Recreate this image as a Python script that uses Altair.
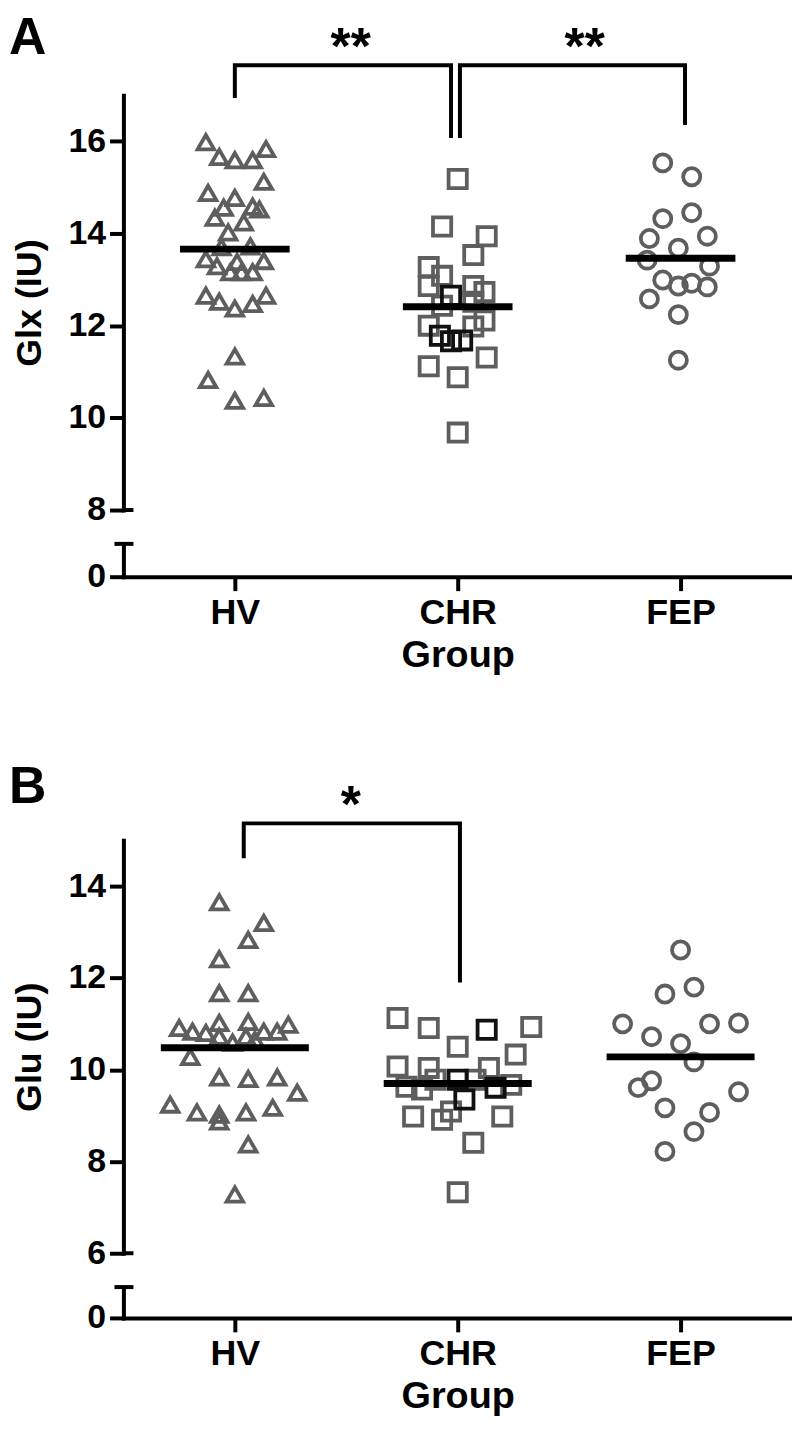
import altair as alt
import pandas as pd

FONT = "Liberation Sans, Arial"
GROUPS = ["HV", "CHR", "FEP"]
SHAPES = ["triangle-up", "square", "circle"]
GRAY = "#5e5e5e"

# ---------------- Panel A : Glx (IU) ----------------
A_HV_Y = [15.98, 15.66, 15.59, 15.59, 15.83, 15.12, 14.88, 14.77, 14.56, 14.58, 14.52,
          14.34, 14.24, 14.02, 13.70, 13.72, 13.44, 13.29, 13.16, 13.16, 13.16, 13.40,
          13.38, 12.65, 12.52, 12.37, 12.47, 12.65, 11.33, 10.82, 10.37, 10.43]
A_HV_DX = [-0.13, -0.07, 0.0, 0.08, 0.14, 0.13, -0.12, 0.0, -0.05, 0.08, 0.11,
           -0.09, 0.04, -0.03, -0.06, 0.07, -0.13, -0.08, -0.02, 0.03, 0.08, 0.13,
           0.01, -0.13, -0.07, 0.0, 0.08, 0.14, 0.0, -0.12, 0.0, 0.13]
A_CHR_Y = [15.18, 14.15, 13.94, 13.53, 13.27, 13.08, 12.86, 12.86, 12.73, 12.52, 12.43,
           12.00, 12.11, 11.98, 11.31, 11.12, 10.88, 9.68, 12.65, 11.78, 11.66, 11.68]
A_CHR_DX = [0.0, -0.07, 0.13, 0.07, -0.13, -0.07, -0.13, 0.07, 0.12, 0.07, -0.07,
            -0.13, 0.12, 0.07, 0.13, -0.13, 0.0, 0.0, -0.03, -0.08, -0.03, 0.02]
A_CHR_DARK = [False] * 18 + [True] * 4
A_FEP_Y = [15.53, 15.23, 14.32, 14.45, 13.89, 13.94, 13.68, 13.42, 13.29, 12.99, 12.86,
           12.92, 12.84, 12.58, 12.24, 11.25]
A_FEP_DX = [-0.08, 0.05, -0.08, 0.05, -0.14, 0.12, -0.01, -0.15, 0.13, -0.08, -0.01,
            0.05, 0.12, -0.14, -0.01, -0.01]
A_MEANS = [13.66, 12.41, 13.46]
A_BR_ID = [1, 1, 1, 1, 2, 2, 2, 2]
A_BR_X = [0.0, 0.0, 0.97, 0.97, 1.01, 1.01, 2.02, 2.02]
A_BR_Y = [16.94, 17.65, 17.65, 16.07, 16.07, 17.65, 17.65, 16.35]
A_STARS = ["**", "**"]
A_STARS_X = [0.52, 1.57]
A_STARS_Y = [17.65, 17.65]

# ---------------- Panel B : Glu (IU) ----------------
B_HV_Y = [13.65, 13.20, 12.83, 12.41, 11.67, 11.67, 10.91, 10.83, 10.80, 11.02, 10.72,
          10.59, 11.04, 10.72, 10.83, 10.83, 10.98, 10.65, 10.28, 9.83, 9.80, 9.83,
          9.50, 9.24, 9.07, 9.02, 8.87, 9.07, 9.17, 8.37, 7.28]
B_HV_DX = [-0.07, 0.13, 0.06, -0.07, -0.07, 0.06, -0.25, -0.19, -0.13, -0.07, -0.07,
           -0.01, 0.06, 0.05, 0.13, 0.19, 0.24, 0.09, -0.20, -0.07, 0.06, 0.19,
           0.28, -0.29, -0.17, -0.07, -0.07, 0.05, 0.17, 0.06, 0.0]
B_CHR_Y = [11.13, 10.91, 10.93, 10.50, 10.33, 10.07, 10.04, 10.04, 9.63, 9.78, 9.78,
           9.67, 9.57, 8.98, 8.91, 9.09, 8.98, 8.41, 7.33, 10.87, 9.78, 9.61, 9.35]
B_CHR_DX = [-0.27, -0.13, 0.33, 0.0, 0.26, -0.27, -0.13, 0.14, -0.23, -0.10, 0.08,
            0.24, -0.16, -0.20, -0.07, -0.03, 0.20, 0.07, 0.0, 0.13, 0.0, 0.17, 0.03]
B_CHR_DARK = [False] * 19 + [True] * 4
B_FEP_Y = [12.61, 11.65, 11.80, 11.00, 10.72, 10.57, 11.00, 11.02, 10.17, 9.61, 9.76,
           9.17, 9.07, 9.52, 8.65, 8.22]
B_FEP_DX = [0.0, -0.07, 0.06, -0.26, -0.13, 0.0, 0.13, 0.26, 0.06, -0.19, -0.13,
            -0.07, 0.13, 0.26, 0.06, -0.07]
B_MEANS = [10.48, 9.70, 10.28]
B_BR_ID = [1, 1, 1, 1]
B_BR_X = [0.04, 0.04, 1.01, 1.01]
B_BR_Y = [14.61, 15.37, 15.37, 11.90]
B_STARS = ["*"]
B_STARS_X = [0.52]
B_STARS_Y = [15.37]

PLOT_W = 672
GAP = 34
XSCALE = alt.Scale(domain=[-0.5, 2.5], nice=False, zero=False)


def panel(letter, ytitle, ys, dxs, darks, means, mean_hw, br_id, br_x, br_y,
          stars, stars_x, stars_y, ydom, yticks, up_h, low_h, letter_off):
    yscale = alt.Scale(domain=ydom, nice=False, zero=False)
    layers = []
    for gi, g in enumerate(GROUPS):
        dark = darks[gi] if darks[gi] is not None else [False] * len(ys[gi])
        df = pd.DataFrame({
            "x": [gi + d for d in dxs[gi]],
            "y": ys[gi],
            "tone": ["dark" if k else "gray" for k in dark],
        })
        size = {"HV": 275, "CHR": 335, "FEP": 295}[g]
        layers.append(
            alt.Chart(df).mark_point(shape=SHAPES[gi], size=size, filled=False,
                                     strokeWidth=3.8, opacity=1).encode(
                x=alt.X("x:Q", scale=XSCALE, axis=None),
                y=alt.Y("y:Q", scale=yscale,
                        axis=alt.Axis(values=yticks, title=ytitle, titlePadding=20)),
                color=alt.Color("tone:N", scale=alt.Scale(domain=["gray", "dark"],
                                                          range=[GRAY, "#111111"]),
                                legend=None),
            )
        )
    mdf = pd.DataFrame({"x1": [i - mean_hw for i in range(3)],
                        "x2": [i + mean_hw for i in range(3)],
                        "m": means})
    layers.append(alt.Chart(mdf).mark_rule(color="black", strokeWidth=7).encode(
        x=alt.X("x1:Q", scale=XSCALE, axis=None), x2="x2:Q",
        y=alt.Y("m:Q", scale=yscale)))
    # right half of the end cap at the bottom of the upper axis segment
    cdf = pd.DataFrame({"x1": [-0.5], "x2": [-0.455], "y": [ydom[0]]})
    layers.append(alt.Chart(cdf).mark_rule(color="black", strokeWidth=4).encode(
        x=alt.X("x1:Q", scale=XSCALE, axis=None), x2="x2:Q",
        y=alt.Y("y:Q", scale=yscale)))
    bdf = pd.DataFrame({"id": br_id, "x": br_x, "y": br_y,
                        "o": list(range(len(br_x)))})
    layers.append(alt.Chart(bdf).mark_line(color="black", strokeWidth=4,
                                           strokeJoin="miter").encode(
        x=alt.X("x:Q", scale=XSCALE, axis=None),
        y=alt.Y("y:Q", scale=yscale), detail="id:N", order="o:Q"))
    sdf = pd.DataFrame({"t": stars, "x": stars_x, "y": stars_y})
    layers.append(alt.Chart(sdf).mark_text(font=FONT, fontSize=52, fontWeight="bold",
                                           baseline="alphabetic", align="center",
                                           dy=-1, color="black").encode(
        x=alt.X("x:Q", scale=XSCALE, axis=None),
        y=alt.Y("y:Q", scale=yscale), text="t:N"))
    px_per_unit = up_h / (ydom[1] - ydom[0])
    ldf = pd.DataFrame({"t": [letter], "x": [-0.5 - 115 / 224],
                        "y": [ydom[1] + letter_off / px_per_unit]})
    layers.append(alt.Chart(ldf).mark_text(font=FONT, fontSize=52, fontWeight="bold",
                                           baseline="top", align="left",
                                           color="black").encode(
        x=alt.X("x:Q", scale=XSCALE, axis=None),
        y=alt.Y("y:Q", scale=yscale), text="t:N"))
    upper = alt.layer(*layers).properties(width=PLOT_W, height=up_h)

    capdf = pd.DataFrame({"x1": [-0.5 - 9 / 224], "x2": [-0.455], "y": [1.0]})
    lower = alt.Chart(capdf).mark_rule(color="black", strokeWidth=4).encode(
        x=alt.X("x1:Q", scale=XSCALE,
                axis=alt.Axis(values=[0, 1, 2], title="Group",
                              labelExpr="datum.value == 0 ? 'HV' : datum.value == 1 ? 'CHR' : 'FEP'",
                              labelPadding=5, titlePadding=6, labelFontSize=36,
                              titleFontSize=38)),
        x2="x2:Q",
        y=alt.Y("y:Q", scale=alt.Scale(domain=[0, 1], nice=False),
                axis=alt.Axis(values=[0], title=None)),
    ).properties(width=PLOT_W, height=low_h)
    return upper, lower


upA, loA = panel("A", "Glx (IU)", [A_HV_Y, A_CHR_Y, A_FEP_Y], [A_HV_DX, A_CHR_DX, A_FEP_DX],
                 [None, A_CHR_DARK, None], A_MEANS, 0.246, A_BR_ID, A_BR_X, A_BR_Y,
                 A_STARS, A_STARS_X, A_STARS_Y, [8, 17], [8, 10, 12, 14, 16], 417, 33, 82)
upB, loB = panel("B", "Glu (IU)", [B_HV_Y, B_CHR_Y, B_FEP_Y], [B_HV_DX, B_CHR_DX, B_FEP_DX],
                 [None, B_CHR_DARK, None], B_MEANS, 0.332, B_BR_ID, B_BR_X, B_BR_Y,
                 B_STARS, B_STARS_X, B_STARS_Y, [6, 15], [6, 8, 10, 12, 14], 415, 31, 79)

spacer = alt.Chart(pd.DataFrame({"x": [0.0], "y": [0.0]})).mark_point(opacity=0).encode(
    x=alt.X("x:Q", scale=XSCALE, axis=None),
    y=alt.Y("y:Q", axis=None),
).properties(width=PLOT_W, height=197)

chart = alt.vconcat(upA, loA, spacer, upB, loB, spacing=GAP, bounds="flush").properties(
    padding={"left": 0, "top": 0, "right": 0, "bottom": 0}
).configure_axis(
    domainColor="black", domainWidth=4, domainCap="square", tickColor="black",
    tickWidth=4, tickSize=14, labelFont=FONT, labelFontSize=34, labelFontWeight="bold",
    labelColor="black", labelPadding=4, titleFont=FONT, titleFontSize=36,
    titleFontWeight="bold", titleColor="black", grid=False,
).configure_view(stroke=None)

chart.save("out.html", embed_options={"renderer": "svg", "actions": False})
